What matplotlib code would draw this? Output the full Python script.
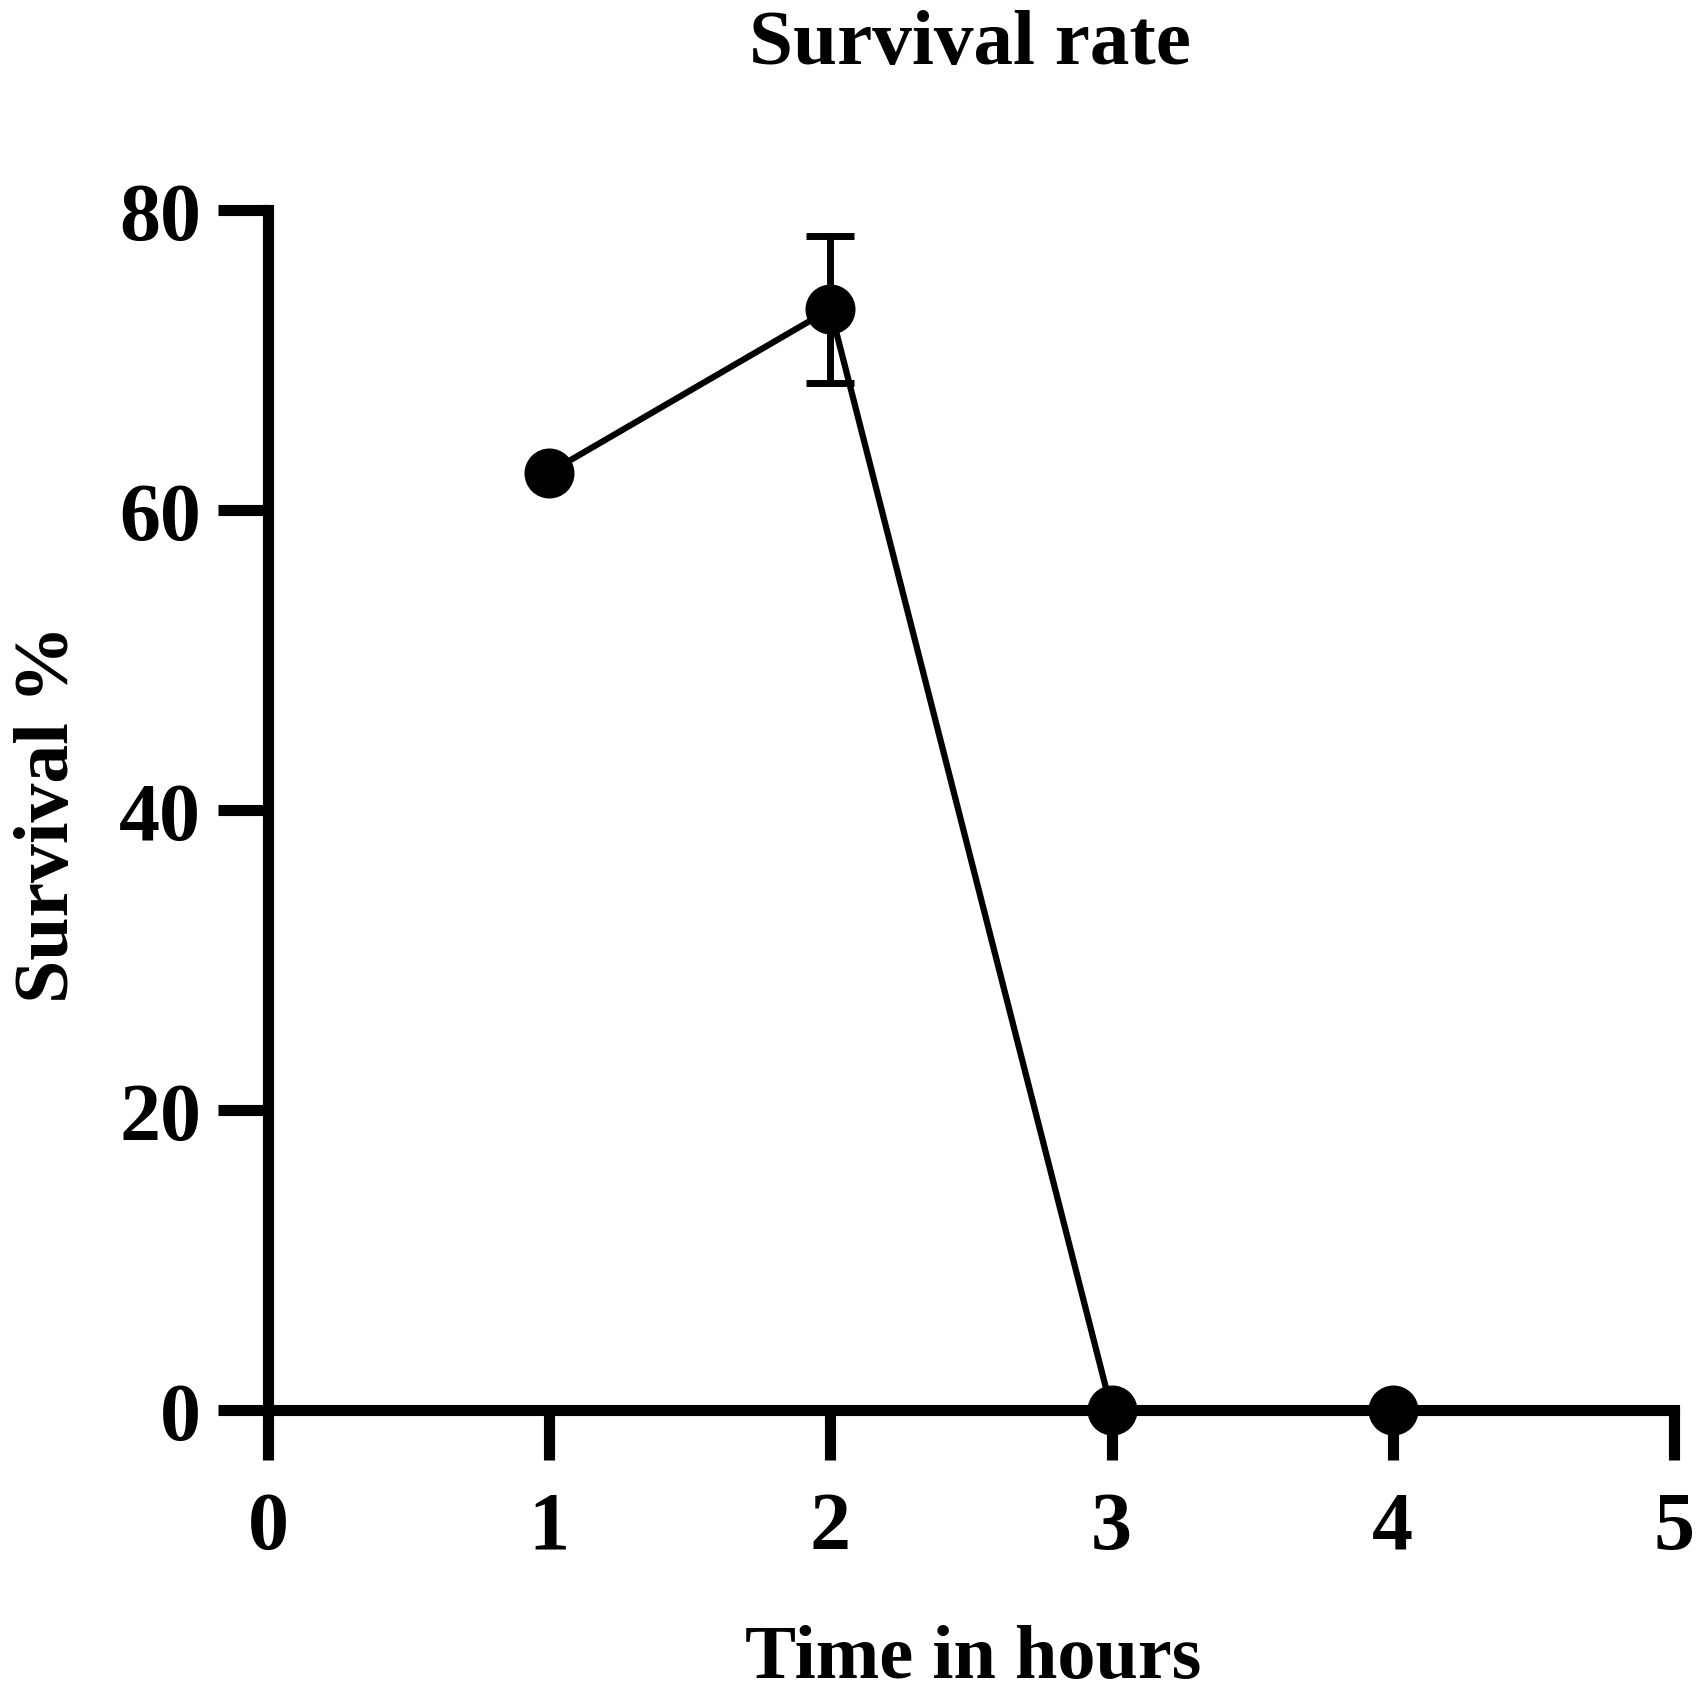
import numpy as np
import matplotlib.pyplot as plt

# survival data
hours = [1, 2, 3, 4]
survival = [62.5, 73.4, 0.0, 0.0]
survival_err = [0.0, 4.9, 0.0, 0.0]

xticks = [0, 1, 2, 3, 4, 5]
yticks = [0, 20, 40, 60, 80]

plt.rcParams['font.family'] = ['Liberation Serif', 'DejaVu Serif']
plt.rcParams['font.weight'] = 'bold'

fig = plt.figure(figsize=(16.99, 16.99), dpi=100)
ax = fig.add_axes([0.1577, 0.1695, 0.9853 - 0.1577, 0.8758 - 0.1695])

ax.errorbar(hours, survival, yerr=[e if e > 0 else np.nan for e in survival_err],
            color='black', lw=4.5, marker='o', markersize=35,
            ecolor='black', elinewidth=5, capsize=17, capthick=5,
            clip_on=False, zorder=3)

ax.set_xlim(0, 5)
ax.set_ylim(0, 80)
ax.set_xticks(xticks)
ax.set_yticks(yticks)

for side in ['top', 'right']:
    ax.spines[side].set_visible(False)
for side in ['left', 'bottom']:
    ax.spines[side].set_linewidth(8)
    ax.spines[side].set_capstyle('projecting')

ax.tick_params(axis='both', which='major', length=36, width=8,
               labelsize=59, direction='out')
ax.tick_params(axis='y', pad=12)
ax.tick_params(axis='x', pad=22)
for lab in ax.get_xticklabels() + ax.get_yticklabels():
    lab.set_fontweight('bold')

fig.text(0.571, 0.973, 'Survival rate', ha='center', va='center',
         fontsize=57, fontweight='bold')
fig.text(0.573, 0.0235, 'Time in hours', ha='center', va='center',
         fontsize=55, fontweight='bold')
fig.text(0.029, 0.521, 'Survival %', ha='center', va='center',
         rotation=90, fontsize=56, fontweight='bold')

fig.savefig('out.png', dpi=100)
